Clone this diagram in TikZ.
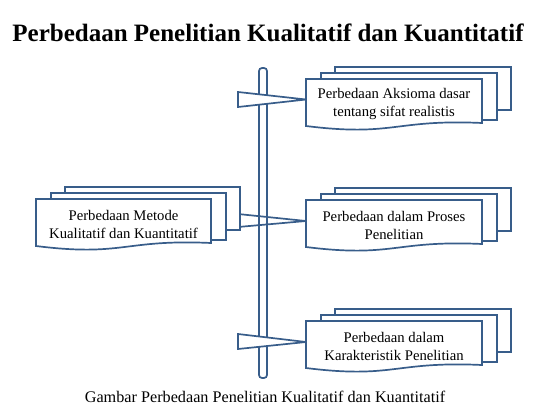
\documentclass[tikz,border=0pt]{standalone}
\usepackage{fontspec}
\setmainfont{Liberation Serif}
\definecolor{ln}{HTML}{385D8A}
\tikzset{
  docline/.style={draw=ln, line width=1.7pt, fill=white, line join=miter},
  wedgeline/.style={draw=ln, line width=1.7pt, line join=miter},
  boxtext/.style={font=\fontsize{14.7}{18}\selectfont, align=center, inner sep=0pt},
  titletext/.style={font=\bfseries\fontsize{25}{28}\selectfont, inner sep=0pt},
  captext/.style={font=\fontsize{16.2}{19}\selectfont, inner sep=0pt}
}
\newcommand\mdoc[5]{%
  \begin{scope}[shift={(#2,#3)}]
    \draw[docline] (29,-12) rectangle (#4+29,31);
    \draw[docline] (15,-6) rectangle (#4+15,41);
    \draw[docline] (0,0) -- (#4,0) -- (#4,44) .. controls (#4*0.5,40) and (#4*0.5,58) .. (0,47) -- cycle;
    \node[boxtext] (#1) at (#4*0.5,25) {#5};
  \end{scope}}
\begin{document}
\begin{tikzpicture}[x=1pt,y=-1pt]
\useasboundingbox (0,0) rectangle (537,417);
\node[titletext] (title) at (268,33) {Perbedaan Penelitian Kualitatif dan Kuantitatif};
% bar
\draw[docline, rounded corners=3pt] (259,68) rectangle (267,378);
% middle wedge
\coordinate (mwA) at (238,214);
\coordinate (mwB) at (238,227);
\coordinate (mwT) at (306,221);
\draw[wedgeline] (mwA) -- (mwT) -- (mwB);
% left document
\mdoc{metode}{36}{199}{175}{Perbedaan Metode\\Kualitatif dan Kuantitatif}
% side wedges
\coordinate (awA) at (238,92);
\coordinate (awB) at (238,107);
\coordinate (awT) at (306,99.5);
\draw[docline] (awA) -- (awB) -- (awT) -- cycle;
\coordinate (kwA) at (238,334);
\coordinate (kwB) at (238,349);
\coordinate (kwT) at (306,342);
\draw[docline] (kwA) -- (kwB) -- (kwT) -- cycle;
% right documents
\mdoc{aksioma}{306}{79}{176}{Perbedaan Aksioma dasar\\tentang sifat realistis}
\mdoc{proses}{306}{200}{176}{Perbedaan dalam Proses\\Penelitian}
\mdoc{karak}{306}{321}{176}{Perbedaan dalam\\Karakteristik Penelitian}
\node[captext] (cap) at (265,397) {Gambar Perbedaan Penelitian Kualitatif dan Kuantitatif};
\end{tikzpicture}
\end{document}
